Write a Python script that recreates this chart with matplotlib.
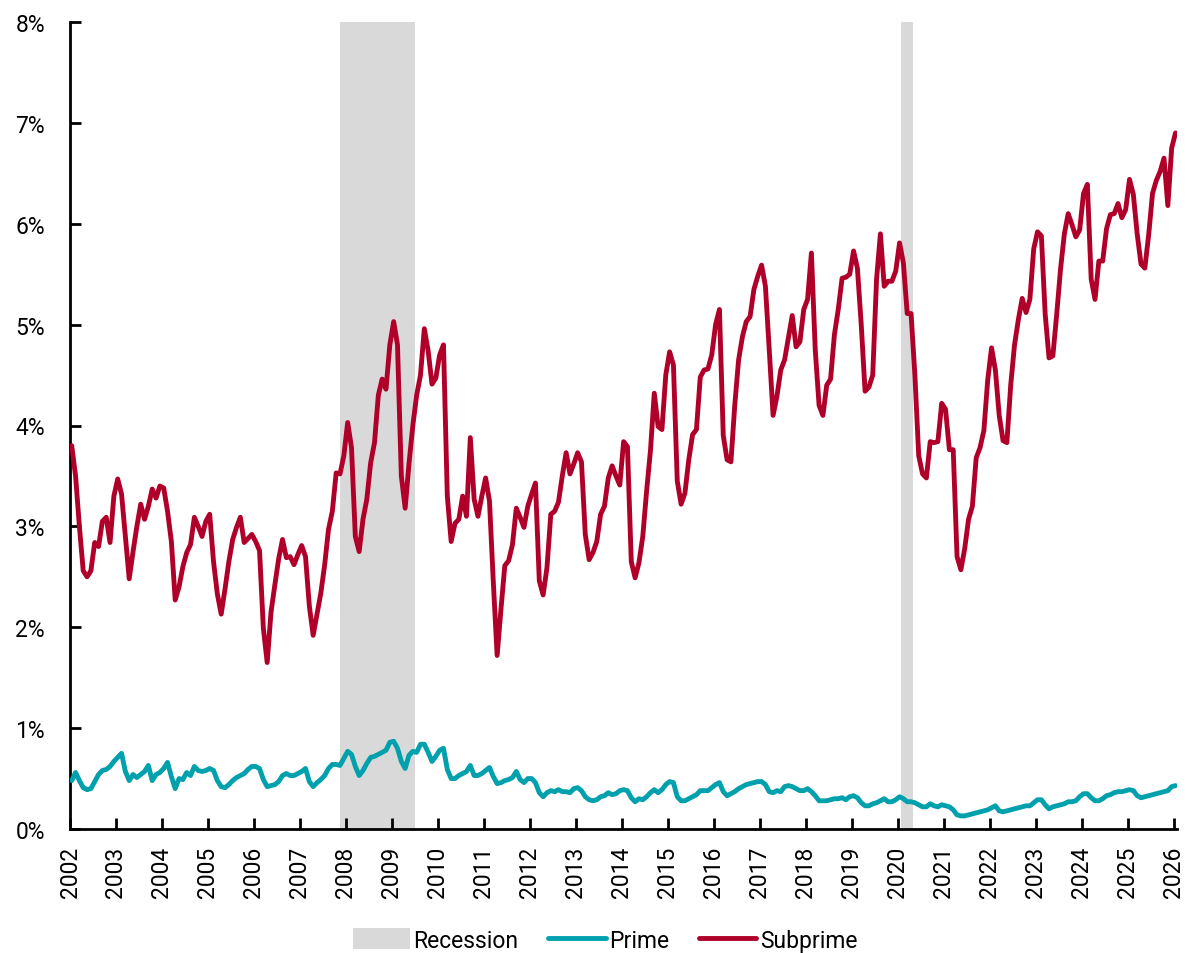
import numpy as np
import matplotlib
matplotlib.use("Agg")
import matplotlib.pyplot as plt
from matplotlib.patches import Patch
from matplotlib.lines import Line2D

plt.rcParams['font.family'] = ['Roboto', 'DejaVu Sans']

# monthly delinquency rates (%), Jan 2002 .. Jan 2026
subprime = [
    3.80, 3.50, 3.00, 2.56, 2.50, 2.56, 2.84, 2.80, 3.05, 3.09, 2.84, 3.30,  # 2002
    3.47, 3.32, 2.90, 2.48, 2.75, 3.00, 3.22, 3.07, 3.20, 3.37, 3.28, 3.40,  # 2003
    3.38, 3.15, 2.85, 2.27, 2.40, 2.60, 2.74, 2.82, 3.09, 3.00, 2.90, 3.05,  # 2004
    3.12, 2.65, 2.33, 2.13, 2.38, 2.65, 2.87, 2.99, 3.09, 2.84, 2.88, 2.92,  # 2005
    2.85, 2.76, 1.99, 1.65, 2.15, 2.42, 2.68, 2.87, 2.69, 2.70, 2.62, 2.72,  # 2006
    2.81, 2.70, 2.21, 1.92, 2.13, 2.34, 2.62, 2.97, 3.15, 3.53, 3.52, 3.70,  # 2007
    4.03, 3.78, 2.90, 2.75, 3.07, 3.27, 3.63, 3.83, 4.30, 4.46, 4.36, 4.80,  # 2008
    5.03, 4.80, 3.50, 3.18, 3.62, 4.00, 4.30, 4.50, 4.96, 4.74, 4.41, 4.47,  # 2009
    4.70, 4.80, 3.30, 2.85, 3.03, 3.07, 3.30, 3.10, 3.88, 3.27, 3.10, 3.30,  # 2010
    3.48, 3.25, 2.45, 1.72, 2.18, 2.61, 2.66, 2.82, 3.18, 3.09, 2.99, 3.20,  # 2011
    3.32, 3.43, 2.46, 2.32, 2.59, 3.12, 3.15, 3.24, 3.50, 3.73, 3.52, 3.62,  # 2012
    3.73, 3.64, 2.92, 2.67, 2.74, 2.85, 3.12, 3.20, 3.48, 3.60, 3.50, 3.41,  # 2013
    3.84, 3.79, 2.65, 2.49, 2.64, 2.90, 3.35, 3.75, 4.32, 3.99, 3.96, 4.50,  # 2014
    4.73, 4.60, 3.45, 3.22, 3.33, 3.66, 3.91, 3.96, 4.48, 4.55, 4.56, 4.70,  # 2015
    5.00, 5.15, 3.90, 3.66, 3.64, 4.20, 4.65, 4.88, 5.03, 5.08, 5.35, 5.48,  # 2016
    5.59, 5.38, 4.75, 4.10, 4.29, 4.55, 4.65, 4.87, 5.09, 4.78, 4.83, 5.15,  # 2017
    5.25, 5.71, 4.75, 4.20, 4.10, 4.40, 4.46, 4.90, 5.15, 5.46, 5.47, 5.50,  # 2018
    5.73, 5.56, 5.00, 4.34, 4.38, 4.50, 5.45, 5.90, 5.38, 5.43, 5.43, 5.53,  # 2019
    5.81, 5.61, 5.11, 5.11, 4.50, 3.70, 3.52, 3.48, 3.84, 3.83, 3.84, 4.22,  # 2020
    4.16, 3.76, 3.76, 2.70, 2.57, 2.78, 3.07, 3.20, 3.68, 3.78, 3.95, 4.45,  # 2021
    4.77, 4.55, 4.10, 3.85, 3.83, 4.40, 4.80, 5.05, 5.26, 5.12, 5.25, 5.75,  # 2022
    5.92, 5.88, 5.10, 4.67, 4.69, 5.10, 5.55, 5.90, 6.10, 5.99, 5.87, 5.94,  # 2023
    6.30, 6.39, 5.45, 5.25, 5.63, 5.63, 5.95, 6.09, 6.10, 6.20, 6.06, 6.14,  # 2024
    6.44, 6.29, 5.90, 5.60, 5.56, 5.89, 6.30, 6.43, 6.52, 6.65, 6.18, 6.75,  # 2025
    6.90,                                                                    # 2026
]

prime = [
    0.48, 0.56, 0.48, 0.41, 0.39, 0.40, 0.47, 0.54, 0.58, 0.59, 0.62, 0.67,
    0.71, 0.75, 0.57, 0.48, 0.54, 0.51, 0.54, 0.57, 0.63, 0.48, 0.54, 0.56,
    0.60, 0.66, 0.52, 0.40, 0.50, 0.49, 0.56, 0.53, 0.62, 0.58, 0.57, 0.58,
    0.60, 0.58, 0.48, 0.42, 0.41, 0.44, 0.48, 0.51, 0.53, 0.55, 0.59, 0.62,
    0.62, 0.60, 0.49, 0.42, 0.43, 0.44, 0.47, 0.53, 0.55, 0.53, 0.53, 0.55,
    0.57, 0.60, 0.47, 0.42, 0.46, 0.49, 0.53, 0.60, 0.64, 0.64, 0.63, 0.70,
    0.77, 0.74, 0.62, 0.53, 0.58, 0.65, 0.71, 0.72, 0.74, 0.76, 0.78, 0.86,
    0.87, 0.80, 0.67, 0.60, 0.73, 0.77, 0.76, 0.84, 0.84, 0.76, 0.67, 0.72,
    0.78, 0.80, 0.59, 0.50, 0.50, 0.53, 0.55, 0.57, 0.63, 0.53, 0.53, 0.55,
    0.58, 0.61, 0.52, 0.45, 0.46, 0.48, 0.49, 0.51, 0.57, 0.49, 0.46, 0.50,
    0.50, 0.46, 0.36, 0.32, 0.36, 0.38, 0.37, 0.39, 0.37, 0.37, 0.36, 0.40,
    0.41, 0.38, 0.32, 0.29, 0.28, 0.29, 0.32, 0.33, 0.36, 0.34, 0.35, 0.38,
    0.39, 0.38, 0.31, 0.27, 0.30, 0.29, 0.32, 0.36, 0.39, 0.36, 0.39, 0.44,
    0.47, 0.46, 0.32, 0.28, 0.28, 0.30, 0.32, 0.34, 0.38, 0.38, 0.38, 0.41,
    0.44, 0.46, 0.37, 0.33, 0.35, 0.37, 0.40, 0.42, 0.44, 0.45, 0.46, 0.47,
    0.47, 0.44, 0.37, 0.36, 0.38, 0.37, 0.42, 0.43, 0.42, 0.40, 0.38, 0.38,
    0.40, 0.37, 0.33, 0.28, 0.28, 0.28, 0.29, 0.30, 0.30, 0.31, 0.29, 0.32,
    0.33, 0.31, 0.26, 0.23, 0.23, 0.25, 0.26, 0.28, 0.30, 0.27, 0.27, 0.29,
    0.32, 0.30, 0.27, 0.27, 0.26, 0.24, 0.22, 0.22, 0.25, 0.23, 0.22, 0.24,
    0.23, 0.22, 0.19, 0.14, 0.13, 0.13, 0.14, 0.15, 0.16, 0.17, 0.18, 0.19,
    0.21, 0.23, 0.18, 0.17, 0.18, 0.19, 0.20, 0.21, 0.22, 0.23, 0.23, 0.26,
    0.29, 0.29, 0.24, 0.20, 0.22, 0.23, 0.24, 0.25, 0.27, 0.27, 0.28, 0.32,
    0.35, 0.35, 0.31, 0.28, 0.28, 0.30, 0.33, 0.34, 0.36, 0.37, 0.37, 0.38,
    0.39, 0.38, 0.33, 0.31, 0.32, 0.33, 0.34, 0.35, 0.36, 0.37, 0.38, 0.42,
    0.43,
]

# recession periods as fractional years (start, end)
recessions = [(2007.88, 2009.5), (2020.06, 2020.34)]
years = list(range(2002, 2027))
yticks = list(range(0, 9))

start_year = 2002
t = start_year + (np.arange(len(subprime)) + 0.45) / 12

C_SUB = '#B0002A'
C_PRIME = '#00A0AC'
C_REC = '#D9D9D9'
FS = 16.5

fig = plt.figure(figsize=(11.86, 9.54), dpi=100)
ax = fig.add_axes([70/1186, 1 - 830/954, 1107/1186, 807/954])

for a, b in recessions:
    ax.axvspan(a, b, color=C_REC, lw=0, zorder=0)

ax.plot(t, prime, color=C_PRIME, lw=3.5, solid_joinstyle='round', solid_capstyle='round', zorder=3)
ax.plot(t, subprime, color=C_SUB, lw=3.5, solid_joinstyle='round', solid_capstyle='round', zorder=3)

ax.set_xlim(2002, 2026.07)
ax.set_ylim(0, 8)
ax.set_xticks(years)
ax.set_xticklabels([str(y) for y in years], rotation=90)
ax.set_yticks(yticks)
ax.set_yticklabels([f'{v}%' for v in yticks])

for s in ['top', 'right']:
    ax.spines[s].set_visible(False)
for s in ['left', 'bottom']:
    ax.spines[s].set_linewidth(2)
    ax.spines[s].set_color('black')

ax.tick_params(axis='both', direction='in', length=8, width=2, labelsize=FS, colors='black')
ax.tick_params(axis='y', pad=18)
ax.tick_params(axis='x', pad=12)

handles = [
    Patch(facecolor=C_REC, edgecolor='none', label='Recession'),
    Line2D([], [], color=C_PRIME, lw=3.5, solid_capstyle='round', label='Prime'),
    Line2D([], [], color=C_SUB, lw=3.5, solid_capstyle='round', label='Subprime'),
]
fig.legend(handles=handles, loc='center', bbox_to_anchor=(605/1186, 1 - 941/954),
           ncol=3, frameon=False, fontsize=FS, handlelength=2.5, handleheight=1.0,
           handletextpad=0.15, columnspacing=1.3, borderaxespad=0)

fig.savefig('out.png', dpi=100)
